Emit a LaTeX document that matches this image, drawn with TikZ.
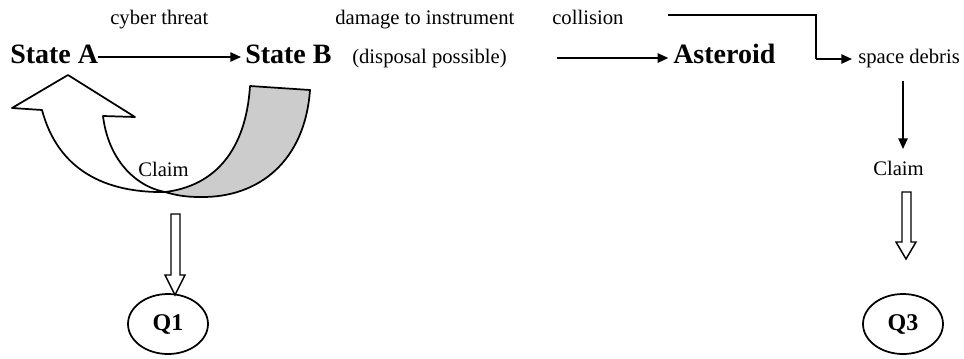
\documentclass[tikz,border=0pt]{standalone}
\usepackage{fontspec}
\setmainfont{Liberation Serif}
\usetikzlibrary{arrows.meta,shapes.geometric}

\tikzset{
  big/.style={inner sep=0pt, font=\fontsize{21}{24}\selectfont\bfseries},
  small/.style={inner sep=0pt, font=\fontsize{15.5}{18}\selectfont},
  qnode/.style={draw, line width=1.3pt, ellipse, minimum width=60pt, minimum height=45pt,
                inner sep=0pt, font=\fontsize{18}{20}\selectfont\bfseries},
  flow/.style={line width=1.3pt, -{Triangle[length=8pt,width=7pt]}},
  plain/.style={line width=1.3pt},
  hollow/.style={draw, line width=1.1pt, fill=white, line join=miter},
  band/.style={draw, line width=1.3pt, line join=round}
}

\begin{document}
\begin{tikzpicture}[x=0.75pt,y=-0.75pt]
  \useasboundingbox (0,0) rectangle (964,358);

  % curved claim arrow between the two states
  \path[band, fill=white]
    (42,110) .. controls (58,170) and (105,193) .. (165,192)
    .. controls (134,186) and (108,158) .. (103,116)
    -- (135,117) -- (68,75) -- (12,108) -- cycle;
  \path[band, fill=black!20]
    (165,192) .. controls (215,186) and (246,150) .. (250,86)
    -- (310,90) .. controls (305,160) and (260,198) .. (200,197)
    .. controls (185,197) and (175,195) .. (165,192) -- cycle;

  % labels above the arrows
  \node[small, anchor=base west] (ct) at (110,24) {cyber threat};
  \node[small, anchor=base west] (dti) at (335,24) {damage to instrument};
  \node[small, anchor=base west] (col) at (552,24) {collision};

  % states and objects
  \node[big, anchor=base west] (sa) at (10,63) {State A};
  \node[big, anchor=base west] (sb) at (245,63) {State B};
  \node[small, anchor=base west] (dp) at (352,63) {(disposal possible)};
  \node[big, anchor=base west] (ast) at (673,63) {Asteroid};
  \node[small, anchor=base west] (deb) at (858,63) {space debris};

  % claims and questions
  \node[small, anchor=base west] (clA) at (138,176) {Claim};
  \node[small, anchor=base west] (clB) at (873,175) {Claim};
  \node[qnode] (q1) at (168,324) {Q1};
  \node[qnode] (q3) at (903,324) {Q3};

  % connector end points
  \coordinate (m0) at (557,58);
  \coordinate (e0) at (668,15);
  \coordinate (e1) at (816,15);
  \coordinate (e2) at (816,59);
  \coordinate (d0) at (903,81);
  \coordinate (d1) at (903,149);

  \draw[flow] ([yshift=4.5pt]sa.base east) -- ([xshift=-3pt,yshift=4.5pt]sb.base west);
  \draw[flow] (m0) -- ([xshift=-3.5pt]m0 -| ast.west);
  \draw[plain] (e0) -- (e1) -- (e2);
  \draw[flow] (e2) -- ([xshift=-4.5pt]e2 -| deb.west);
  \draw[flow] (d0) -- (d1);

  % hollow block arrows down to the questions
  \path[hollow] (171,214) -- (180,214) -- (180,275) -- (185,275) -- (175,295)
    -- (165,275) -- (171,275) -- cycle;
  \path[hollow] (902,192) -- (911,192) -- (911,242) -- (916,242) -- (906,259)
    -- (896,242) -- (902,242) -- cycle;
\end{tikzpicture}
\end{document}
